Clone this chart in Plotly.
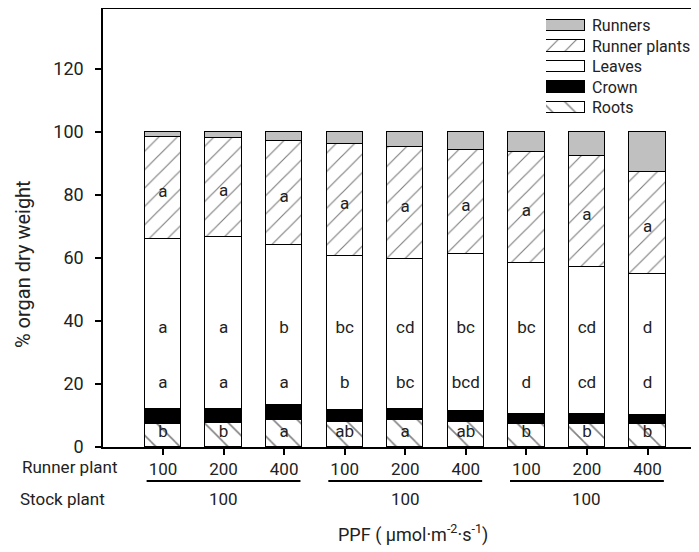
import plotly.graph_objects as go

runner_ppf = ["100", "200", "400", "100", "200", "400", "100", "200", "400"]
stock_ppf = ["100", "100", "100"]
roots = [7.3, 7.5, 8.7, 7.8, 8.5, 8.0, 7.2, 7.4, 7.3]
crown = [4.7, 4.5, 4.7, 3.8, 3.7, 3.4, 3.2, 3.2, 2.9]
leaves = [53.9, 54.5, 50.7, 48.9, 47.6, 49.7, 48.1, 46.6, 44.8]
runner_plants = [32.5, 31.7, 32.9, 35.8, 35.4, 33.2, 35.2, 35.2, 32.3]
runners = [1.6, 1.8, 3.0, 3.7, 4.8, 5.7, 6.3, 7.6, 12.7]

roots_letters = ["b", "b", "a", "ab", "a", "ab", "b", "b", "b"]
crown_letters = ["a", "a", "a", "b", "bc", "bcd", "d", "cd", "d"]
leaves_letters = ["a", "a", "b", "bc", "cd", "bc", "bc", "cd", "d"]
rp_letters = ["a"] * 9

FONT = "Roboto, Noto Sans, sans-serif"
TXT = "#222222"
xs = list(range(len(runner_ppf)))
W = 0.6
LW = 1.5

fig = go.Figure()

def add_bar(vals, name, color, pattern=None, psize=12):
    marker = dict(color=color, line=dict(color="black", width=LW))
    if pattern:
        marker["pattern"] = dict(shape=pattern, fgcolor="black", bgcolor="white",
                                 size=psize, solidity=0.09, fillmode="overlay")
    fig.add_trace(go.Bar(x=xs, y=vals, name=name, width=W, marker=marker,
                         showlegend=False, xaxis="x", yaxis="y"))

add_bar(roots, "Roots", "white", "\\", 17)
add_bar(crown, "Crown", "black")
add_bar(leaves, "Leaves", "white")
add_bar(runner_plants, "Runner plants", "white", "/", 13)
add_bar(runners, "Runners", "#c0c0c0")

# letters
base_rp = [r + c + l for r, c, l in zip(roots, crown, leaves)]
rp_mid = [b + rp / 2 - 1.5 for b, rp in zip(base_rp, runner_plants)]
txtfont = dict(family=FONT, size=17, color=TXT)
for yvals, labels in [
    ([4.4] * 9, roots_letters),
    ([20.0] * 9, crown_letters),
    ([37.5] * 9, leaves_letters),
    (rp_mid, rp_letters),
]:
    fig.add_trace(go.Scatter(x=xs, y=yvals, text=labels, mode="text",
                             textfont=txtfont, showlegend=False, hoverinfo="skip"))

# custom legend swatches (small axis)
leg_names = ["Runners", "Runner plants", "Leaves", "Crown", "Roots"]
leg_colors = ["#c0c0c0", "white", "white", "black", "white"]
leg_patterns = ["", "/", "", "", "\\"]
leg_psize = [8, 13, 8, 8, 16]
for nm, col, pat, ps in zip(leg_names, leg_colors, leg_patterns, leg_psize):
    mk = dict(color=col, line=dict(color="black", width=1.2))
    if pat:
        mk["pattern"] = dict(shape=pat, fgcolor="black", bgcolor="white",
                             size=ps, solidity=0.09, fillmode="overlay")
    fig.add_trace(go.Bar(x=[1], y=[nm], orientation="h", width=0.55, marker=mk,
                         xaxis="x2", yaxis="y2", showlegend=False, hoverinfo="skip"))

# page has an 8px body margin; compensate so the drawing lands where intended
OFF = 8
PAGE_W, PAGE_H = 699, 552
FW, FH = PAGE_W - OFF, PAGE_H - OFF
PLOT_L, PLOT_T, PLOT_R, PLOT_B = 103, 9, 699, 447   # page pixels
PL, PT = PLOT_L - OFF, PLOT_T - OFF
PR = FW - (PLOT_R - OFF)
PB = FH - (PLOT_B - OFF)
pw = PLOT_R - PLOT_L
ph = PLOT_B - PLOT_T

def px_x(p):
    return (p - PLOT_L) / pw

def px_y(p):
    return (PLOT_B - p) / ph

fig.update_layout(
    width=FW, height=FH,
    margin=dict(l=PL, r=PR, t=PT, b=PB, pad=0),
    barmode="stack",
    plot_bgcolor="white", paper_bgcolor="white",
    font=dict(family=FONT, size=17, color=TXT),
    bargap=0,
    xaxis=dict(
        range=[-0.99, 8.85], tickmode="array", tickvals=xs, ticktext=runner_ppf,
        showline=True, linecolor="black", linewidth=1.5, mirror=True,
        ticks="outside", ticklen=6, tickwidth=1.5, tickcolor="black",
        showgrid=False, zeroline=False, tickfont=dict(size=17, color=TXT),
    ),
    yaxis=dict(
        range=[0, 139], tickvals=[0, 20, 40, 60, 80, 100, 120],
        showline=True, linecolor="black", linewidth=1.5,
        ticks="outside", ticklen=6, tickwidth=1.5, tickcolor="black",
        ticklabelstandoff=8,
        showgrid=False, zeroline=False, tickfont=dict(size=18, color=TXT),
    ),
    xaxis2=dict(domain=[px_x(546), px_x(585)], range=[0, 1], anchor="y2",
                visible=False, fixedrange=True),
    yaxis2=dict(domain=[px_y(118), px_y(15)], anchor="x2", side="right",
                categoryorder="array", categoryarray=leg_names[::-1],
                showline=False, showgrid=False, zeroline=False, ticks="",
                ticklabelstandoff=6,
                tickfont=dict(size=16, color=TXT), fixedrange=True),
)

annotations = [
    dict(text="Runner plant", x=px_x(70), y=px_y(467), xref="paper", yref="paper",
         showarrow=False, xanchor="center", yanchor="middle", font=dict(size=17, color=TXT)),
    dict(text="Stock plant", x=px_x(62), y=px_y(499), xref="paper", yref="paper",
         showarrow=False, xanchor="center", yanchor="middle", font=dict(size=17, color=TXT)),
    dict(text="PPF ( µmol·m<sup>-2</sup>·s<sup>-1</sup>)", x=px_x(413), y=px_y(533),
         xref="paper", yref="paper", showarrow=False, xanchor="center", yanchor="middle",
         font=dict(size=18, color=TXT)),
    dict(text="% organ dry weight", x=px_x(23), y=px_y(264), xref="paper", yref="paper",
         showarrow=False, textangle=-90, xanchor="center", yanchor="middle",
         font=dict(size=20, color=TXT)),
]
shapes = []
for g, lab in enumerate(stock_ppf):
    c = 3 * g + 1
    annotations.append(dict(text=lab, x=c, y=px_y(499), xref="x", yref="paper",
                            showarrow=False, xanchor="center", yanchor="middle",
                            font=dict(size=17, color=TXT)))
    shapes.append(dict(type="line", xref="x", yref="paper", x0=c - 1.27, x1=c + 1.27,
                       y0=px_y(481), y1=px_y(481), line=dict(color="black", width=2)))

fig.update_layout(annotations=annotations, shapes=shapes)
fig.write_html("out.html")
